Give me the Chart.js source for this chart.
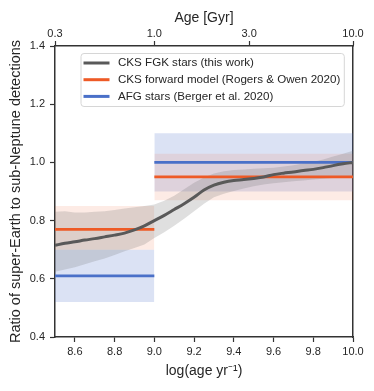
<!DOCTYPE html>
<html lang="en">
<head>
<meta charset="UTF-8">
<title>Super-Earth to sub-Neptune ratio vs age</title>
<script src="https://cdn.jsdelivr.net/npm/chart.js"></script>
<style>
  html, body { margin: 0; padding: 0; background: #fff; }
  #wrap { width: 374px; height: 391px; }
</style>
</head>
<body>
<div id="wrap"><canvas id="ratioChart" width="374" height="391"></canvas></div>
<script>
// CKS FGK curve, sampled on log(age)
const logAge = [8.50, 8.55, 8.60, 8.65, 8.70, 8.75, 8.80, 8.85, 8.90, 8.95,
                9.00, 9.05, 9.10, 9.15, 9.20, 9.25, 9.30, 9.35, 9.40, 9.45,
                9.50, 9.55, 9.60, 9.65, 9.70, 9.75, 9.80, 9.85, 9.90, 9.95, 10.00];
const cksRatio = [0.715, 0.722, 0.727, 0.733, 0.738, 0.744, 0.750, 0.757, 0.768, 0.782,
                  0.800, 0.818, 0.838, 0.858, 0.880, 0.905, 0.922, 0.932, 0.938, 0.941,
                  0.945, 0.950, 0.958, 0.963, 0.967, 0.972, 0.976, 0.982, 0.989, 0.995, 1.000];
const cksUpper = [0.830, 0.832, 0.828, 0.828, 0.830, 0.832, 0.836, 0.842, 0.846, 0.850,
                  0.855, 0.868, 0.885, 0.908, 0.930, 0.948, 0.962, 0.970, 0.974, 0.976,
                  0.978, 0.980, 0.982, 0.986, 0.990, 0.996, 1.002, 1.010, 1.020, 1.030, 1.040];
const cksLower = [0.624, 0.632, 0.640, 0.650, 0.660, 0.670, 0.682, 0.695, 0.706, 0.718,
                  0.740, 0.760, 0.782, 0.806, 0.832, 0.858, 0.880, 0.892, 0.902, 0.910,
                  0.918, 0.924, 0.928, 0.932, 0.935, 0.938, 0.941, 0.944, 0.946, 0.948, 0.950];

// step models: two age bins
const binEdges = [8.5, 9.0, 10.0];
const modelRatio = [0.77, 0.95];
const modelUpper = [0.85, 1.03];
const modelLower = [0.70, 0.87];
const afgRatio = [0.61, 1.00];
const afgUpper = [0.70, 1.10];
const afgLower = [0.52, 0.90];

// axis ticks
const xTicks = [8.6, 8.8, 9.0, 9.2, 9.4, 9.6, 9.8, 10.0];
const ageTickPos = [8.5, 9.0, 9.477, 10.0];
const ageTickLabels = ['0.3', '1.0', '3.0', '10.0'];

const legendLabels = ['CKS FGK stars (this work)',
                      'CKS forward model (Rogers & Owen 2020)',
                      'AFG stars (Berger et al. 2020)'];

const GREY = '#595959', ORANGE = '#ee5a26', BLUE = '#4a70c8';
const INK = '#262626', SPINE = '#333333';

Chart.defaults.font.family = '"Liberation Sans", Arial, sans-serif';
Chart.defaults.color = INK;

function curve(vals) {
    return logAge.map((x, i) => ({ x: x, y: vals[i] }));
}
function bin(vals, i) {
    return [{ x: binEdges[i], y: vals[i] }, { x: binEdges[i + 1], y: vals[i] }];
}
function line(data, color, width) {
    return { data: data, borderColor: color, borderWidth: width, pointRadius: 0, fill: false };
}
function bandTop(data, color) {
    return { data: data, borderWidth: 0, pointRadius: 0, fill: '+1', backgroundColor: color };
}
function bandBottom(data) {
    return { data: data, borderWidth: 0, pointRadius: 0, fill: false };
}

// first dataset ends up on top
const datasets = [
    Object.assign(line(curve(cksRatio), GREY, 3), { cubicInterpolationMode: 'monotone' }),
    line(bin(modelRatio, 0), ORANGE, 2.8),
    line(bin(modelRatio, 1), ORANGE, 2.8),
    line(bin(afgRatio, 0), BLUE, 2.8),
    line(bin(afgRatio, 1), BLUE, 2.8),
    bandTop(curve(cksUpper), 'rgba(110,110,110,0.22)'),
    bandBottom(curve(cksLower)),
    bandTop(bin(modelUpper, 0), 'rgba(238,90,38,0.12)'),
    bandBottom(bin(modelLower, 0)),
    bandTop(bin(modelUpper, 1), 'rgba(238,90,38,0.12)'),
    bandBottom(bin(modelLower, 1)),
    bandTop(bin(afgUpper, 0), 'rgba(74,112,200,0.2)'),
    bandBottom(bin(afgLower, 0)),
    bandTop(bin(afgUpper, 1), 'rgba(74,112,200,0.2)'),
    bandBottom(bin(afgLower, 1))
];

// legend sits inside the plot, upper part
const insideLegend = {
    id: 'insideLegend',
    afterDraw(chart) {
        const ctx = chart.ctx;
        const colors = [GREY, ORANGE, BLUE];
        ctx.save();
        ctx.font = '11.6px "Liberation Sans", Arial, sans-serif';
        const textW = Math.max(...legendLabels.map(t => ctx.measureText(t).width));
        const left = chart.chartArea.left + 26;
        const top = chart.chartArea.top + 7.5;
        const w = 37 + textW + 4, h = 53;
        ctx.beginPath();
        ctx.roundRect(left, top, w, h, 3);
        ctx.fillStyle = 'rgba(255,255,255,0.8)';
        ctx.fill();
        ctx.strokeStyle = '#d6d6d6';
        ctx.lineWidth = 1;
        ctx.stroke();
        legendLabels.forEach((label, i) => {
            const y = top + 9.5 + i * 16.7;
            ctx.strokeStyle = colors[i];
            ctx.lineWidth = 3;
            ctx.beginPath();
            ctx.moveTo(left + 2.5, y);
            ctx.lineTo(left + 28.5, y);
            ctx.stroke();
            ctx.fillStyle = INK;
            ctx.textBaseline = 'middle';
            ctx.fillText(label, left + 37, y);
        });
        ctx.restore();
    }
};

const tickGrid = { drawOnChartArea: false, drawTicks: true, tickLength: 5, tickWidth: 1.2, tickColor: SPINE };
const spine = { display: true, color: SPINE, width: 1.5 };

new Chart(document.getElementById('ratioChart').getContext('2d'), {
    type: 'line',
    data: { datasets: datasets },
    options: {
        responsive: false,
        animation: false,
        layout: { padding: { right: 21 } },
        plugins: { legend: { display: false }, tooltip: { enabled: false } },
        scales: {
            x: {
                type: 'linear', position: 'bottom', min: 8.5, max: 10.0,
                afterBuildTicks: s => { s.ticks = xTicks.map(v => ({ value: v })); },
                afterFit: s => { s.height = 54; },
                ticks: { callback: v => v.toFixed(1), font: { size: 11 }, padding: 3, autoSkip: false, maxRotation: 0 },
                grid: tickGrid,
                border: spine,
                title: { display: true, text: 'log(age yr⁻¹)', font: { size: 14 }, padding: { top: 0, bottom: 11 } }
            },
            xAge: {
                type: 'linear', position: 'top', min: 8.5, max: 10.0,
                afterBuildTicks: s => { s.ticks = ageTickPos.map(v => ({ value: v })); },
                afterFit: s => { s.height = 46; },
                ticks: { callback: (v, i) => ageTickLabels[i], font: { size: 11 }, padding: 0, autoSkip: false, maxRotation: 0 },
                grid: tickGrid,
                border: spine,
                title: { display: true, text: 'Age [Gyr]', font: { size: 14 }, padding: { top: 9.5, bottom: 0 } }
            },
            y: {
                type: 'linear', position: 'left', min: 0.4, max: 1.4,
                afterFit: s => { s.width = 55; },
                ticks: { stepSize: 0.2, callback: v => v.toFixed(1), font: { size: 11 }, padding: 5 },
                grid: tickGrid,
                border: spine,
                title: { display: true, text: 'Ratio of super-Earth to sub-Neptune detections', font: { size: 14.5 }, padding: { top: 7, bottom: 0 } }
            },
            yRight: {
                type: 'linear', position: 'right', min: 0.4, max: 1.4,
                afterFit: s => { s.width = 0; },
                ticks: { display: false },
                grid: { display: false },
                border: spine
            }
        }
    },
    plugins: [insideLegend]
});
</script>
</body>
</html>
